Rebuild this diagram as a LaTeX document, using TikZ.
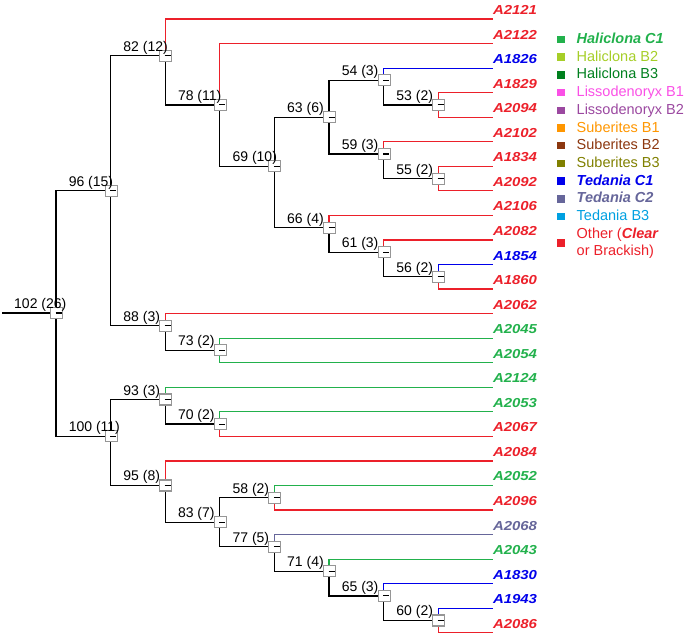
\documentclass[tikz,border=0pt]{standalone}
\usepackage{fontspec}
\setmainfont{Liberation Sans}
\usetikzlibrary{calc}
\definecolor{cR}{RGB}{236,32,42}
\definecolor{cG}{RGB}{34,177,76}
\definecolor{cB}{RGB}{0,0,235}
\definecolor{cS}{RGB}{102,102,154}
\definecolor{cHB}{RGB}{166,206,40}
\definecolor{cHC}{RGB}{0,128,30}
\definecolor{cLA}{RGB}{250,80,230}
\definecolor{cLB}{RGB}{155,72,160}
\definecolor{cSA}{RGB}{255,150,0}
\definecolor{cSB}{RGB}{140,55,15}
\definecolor{cSC}{RGB}{128,128,0}
\definecolor{cTB}{RGB}{0,160,225}
\definecolor{boxgray}{RGB}{150,150,150}
\def\NX#1{56+54.6*#1}
\def\RY#1{19+24.55*#1}
\tikzset{
  tree/.style={line width=1.2pt, black},
  lf/.style={line width=1.2pt},
  nbox/.style={draw=boxgray, fill=white, line width=1.1pt, minimum width=12pt, minimum height=11pt, inner sep=0pt, xshift=0.5pt},
  blab/.style={anchor=base west, inner sep=0pt, font=\fontsize{14}{16}\selectfont, xshift=-42pt, yshift=4.5pt},
  leaflab/.style={anchor=base west, inner sep=0pt, font=\fontsize{13}{15}\selectfont\bfseries\itshape, yshift=4.5pt},
  legtxt/.style={anchor=base west, inner sep=0pt, font=\fontsize{14.5}{17}\selectfont},
  legsq/.style={minimum size=7.5pt, inner sep=0pt},
}
\begin{document}
\begin{tikzpicture}[x=1pt,y=-1pt]
\useasboundingbox (0,0) rectangle (687,637);
% internal nodes
\coordinate (n102) at ({\NX{0}},313);
\coordinate (n96) at ({\NX{1}},{\RY{7}});
\coordinate (n100) at ({\NX{1}},{\RY{17}});
\coordinate (n82) at ({\NX{2}},{\RY{1.5}});
\coordinate (n88) at ({\NX{2}},{\RY{12.5}});
\coordinate (n78) at ({\NX{3}},{\RY{3.5}});
\coordinate (n69) at ({\NX{4}},{\RY{6}});
\coordinate (n63) at ({\NX{5}},{\RY{4}});
\coordinate (n66) at ({\NX{5}},{\RY{8.5}});
\coordinate (n54) at ({\NX{6}},{\RY{2.5}});
\coordinate (n53) at ({\NX{7}},{\RY{3.5}});
\coordinate (n59) at ({\NX{6}},{\RY{5.5}});
\coordinate (n55) at ({\NX{7}},{\RY{6.5}});
\coordinate (n61) at ({\NX{6}},{\RY{9.5}});
\coordinate (n56) at ({\NX{7}},{\RY{10.5}});
\coordinate (n73) at ({\NX{3}},{\RY{13.5}});
\coordinate (n93) at ({\NX{2}},{\RY{15.5}});
\coordinate (n70) at ({\NX{3}},{\RY{16.5}});
\coordinate (n95) at ({\NX{2}},{\RY{19}});
\coordinate (n83) at ({\NX{3}},{\RY{20.5}});
\coordinate (n58) at ({\NX{4}},{\RY{19.5}});
\coordinate (n77) at ({\NX{4}},{\RY{21.5}});
\coordinate (n71) at ({\NX{5}},{\RY{22.5}});
\coordinate (n65) at ({\NX{6}},{\RY{23.5}});
\coordinate (n60) at ({\NX{7}},{\RY{24.5}});
\coordinate (r0) at (2,313);
% leaves
\foreach \i/\nm/\col in {0/A2121/cR,1/A2122/cR,2/A1826/cB,3/A1829/cR,4/A2094/cR,5/A2102/cR,6/A1834/cR,7/A2092/cR,8/A2106/cR,9/A2082/cR,10/A1854/cB,11/A1860/cR,12/A2062/cR,13/A2045/cG,14/A2054/cG,15/A2124/cG,16/A2053/cG,17/A2067/cR,18/A2084/cR,19/A2052/cG,20/A2096/cR,21/A2068/cS,22/A2043/cG,23/A1830/cB,24/A1943/cB,25/A2086/cR}{
  \coordinate (e\i) at ({\NX{8}},{\RY{\i}});
  \node[leaflab, text=\col] (l\i) at (e\i) {\scalebox{1.15}[1]{\nm}};
}
% black edges
\draw[tree] (r0) -- (n102);
\draw[tree] (n102) |- (n96);
\draw[tree] (n102) |- (n100);
\draw[tree] (n96) |- (n82);
\draw[tree] (n96) |- (n88);
\draw[tree] (n82) |- (n78);
\draw[tree] (n78) |- (n69);
\draw[tree] (n69) |- (n63);
\draw[tree] (n69) |- (n66);
\draw[tree] (n63) |- (n54);
\draw[tree] (n63) |- (n59);
\draw[tree] (n54) |- (n53);
\draw[tree] (n59) |- (n55);
\draw[tree] (n66) |- (n61);
\draw[tree] (n61) |- (n56);
\draw[tree] (n88) |- (n73);
\draw[tree] (n100) |- (n93);
\draw[tree] (n100) |- (n95);
\draw[tree] (n93) |- (n70);
\draw[tree] (n95) |- (n83);
\draw[tree] (n83) |- (n58);
\draw[tree] (n83) |- (n77);
\draw[tree] (n77) |- (n71);
\draw[tree] (n71) |- (n65);
\draw[tree] (n65) |- (n60);
% coloured leaf edges
\draw[lf, cR] (n82) |- (e0);
\draw[lf, cR] (n78) |- (e1);
\draw[lf, cB] (n54) |- (e2);
\draw[lf, cR] (n53) |- (e3);
\draw[lf, cR] (n53) |- (e4);
\draw[lf, cR] (n59) |- (e5);
\draw[lf, cR] (n55) |- (e6);
\draw[lf, cR] (n55) |- (e7);
\draw[lf, cR] (n66) |- (e8);
\draw[lf, cR] (n61) |- (e9);
\draw[lf, cB] (n56) |- (e10);
\draw[lf, cR] (n56) |- (e11);
\draw[lf, cR] (n88) |- (e12);
\draw[lf, cG] (n73) |- (e13);
\draw[lf, cG] (n73) |- (e14);
\draw[lf, cG] (n93) |- (e15);
\draw[lf, cG] (n70) |- (e16);
\draw[lf, cR] (n70) |- (e17);
\draw[lf, cR] (n95) |- (e18);
\draw[lf, cG] (n58) |- (e19);
\draw[lf, cR] (n58) |- (e20);
\draw[lf, cS] (n77) |- (e21);
\draw[lf, cG] (n71) |- (e22);
\draw[lf, cB] (n65) |- (e23);
\draw[lf, cB] (n60) |- (e24);
\draw[lf, cR] (n60) |- (e25);
% boxes and labels
\foreach \n/\t in {102/{102 (26)},96/{96 (15)},100/{100 (11)},82/{82 (12)},88/{88 (3)},78/{78 (11)},69/{69 (10)},63/{63 (6)},66/{66 (4)},54/{54 (3)},53/{53 (2)},59/{59 (3)},55/{55 (2)},61/{61 (3)},56/{56 (2)},73/{73 (2)},93/{93 (3)},70/{70 (2)},95/{95 (8)},83/{83 (7)},58/{58 (2)},77/{77 (5)},71/{71 (4)},65/{65 (3)},60/{60 (2)}}{
  \node[nbox] (x\n) at (n\n) {};
  \draw[line width=1.1pt] ([xshift=-1pt]x\n.center) -- ([xshift=5pt]x\n.center);
  \node[blab] (b\n) at (n\n) {\t};
}
% legend
\foreach \i/\t/\col in {0/{\bfseries\itshape Haliclona C1}/cG,1/{Haliclona B2}/cHB,2/{Haliclona B3}/cHC,3/{Lissodenoryx B1}/cLA,4/{Lissodenoryx B2}/cLB,5/{Suberites B1}/cSA,6/{Suberites B2}/cSB,7/{Suberites B3}/cSC,8/{\bfseries\itshape Tedania C1}/cB,9/{\bfseries\itshape Tedania C2}/cS,10/{Tedania B3}/cTB}{
  \node[legsq, fill=\col] (q\i) at (561,{43.5+17.7*\i-4}) {};
  \node[legtxt, text=\col] (t\i) at (576.5,{43.5+17.7*\i}) {\t};
}
\node[legsq, fill=cR] (q11) at (561,{43.5+17.7*11.5-4}) {};
\node[legtxt, text=cR] (t11) at (576.5,{43.5+17.7*11}) {Other ({\bfseries\itshape Clear}};
\node[legtxt, text=cR] (t12) at (576.5,{43.5+17.7*12}) {or Brackish)};
\end{tikzpicture}
\end{document}
